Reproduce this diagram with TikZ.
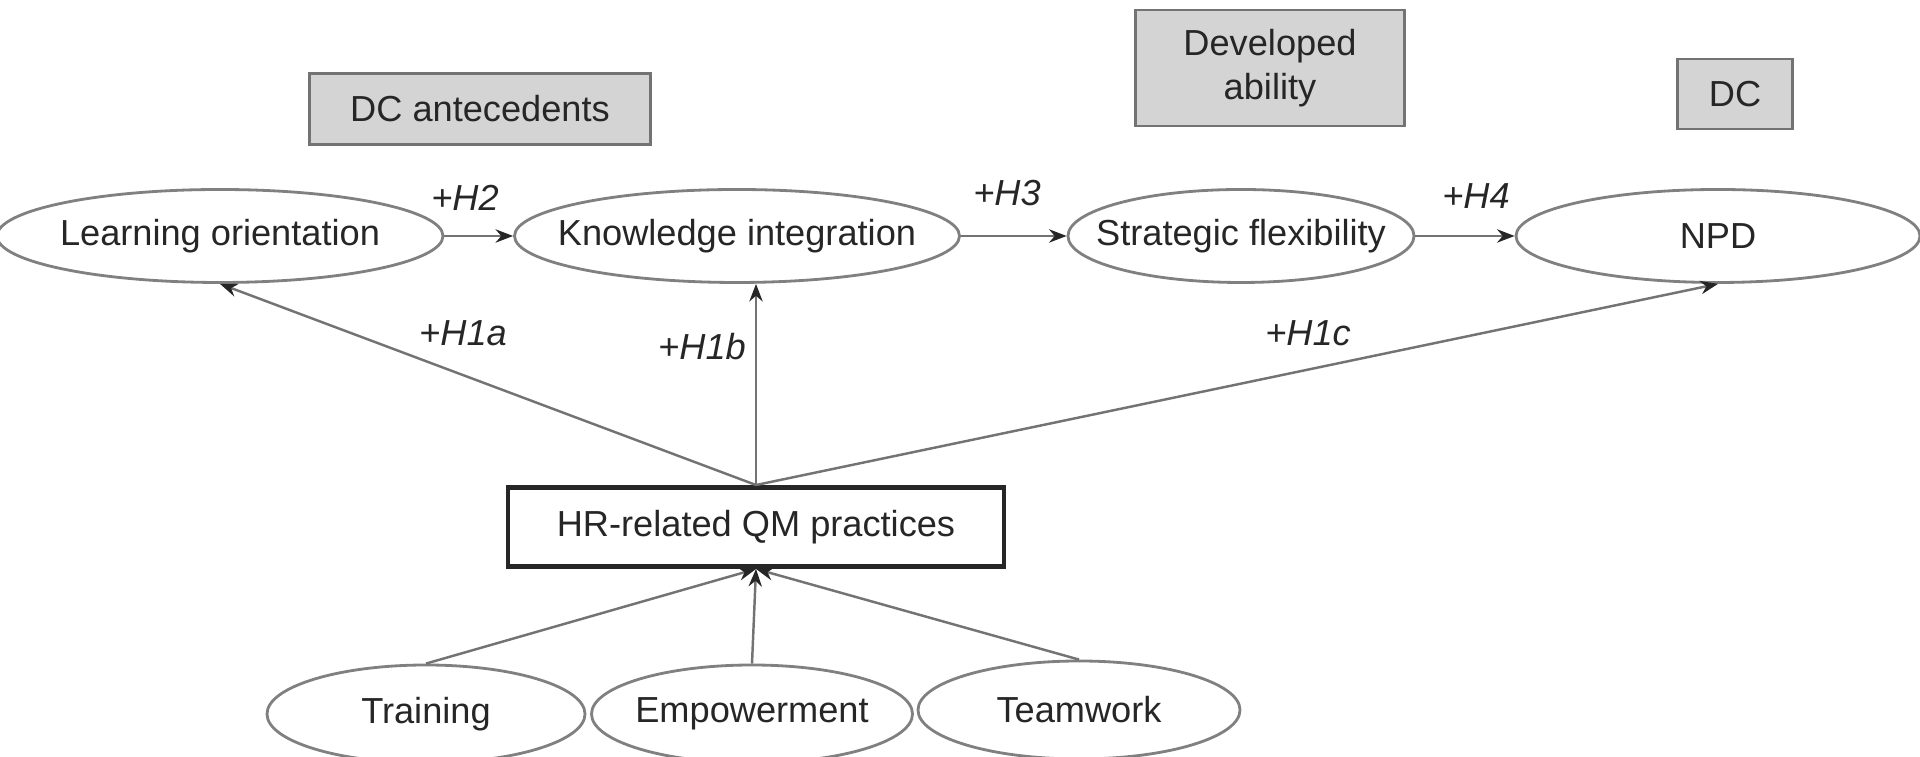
\documentclass[tikz,border=0pt]{standalone}
\usepackage{fontspec}
\setmainfont{Liberation Sans}
\usetikzlibrary{arrows.meta,positioning,shapes.geometric}

% text that does not widen the ellipse around it
\newcommand{\slim}[1]{\makebox[0pt]{#1}}

\begin{document}
\begin{tikzpicture}[>={Stealth[length=5pt,width=3.8pt,color=black!85]},
  font=\fontsize{10.3}{12.4}\selectfont, text=black!85,
  construct/.style={ellipse,draw=black!50,line width=0.8pt,inner sep=0pt,minimum height=0.93cm},
  levelbox/.style={rectangle,draw=black!55,fill=black!17,line width=0.8pt,align=center,inner sep=0pt},
  link/.style={->,draw=black!55,line width=0.7pt},
  hyp/.style={font=\fontsize{10.3}{12.4}\selectfont\itshape}]
  \useasboundingbox (0,0) rectangle (19.2,7.57);

  % level headings
  \node[levelbox,minimum width=3.41cm,minimum height=0.71cm] (ante) at (4.80,6.48) {DC antecedents};
  \node[levelbox,minimum width=2.69cm,minimum height=1.16cm] (devab) at (12.70,6.89) {Developed\\ability};
  \node[levelbox,minimum width=1.15cm,minimum height=0.70cm] (dc) at (17.35,6.63) {DC};

  % main chain
  \node[construct,minimum width=4.46cm] (lo) at (2.20,5.21) {\slim{Learning orientation}};
  \node[construct,minimum width=4.45cm] (ki) at (7.37,5.21) {\slim{Knowledge integration}};
  \node[construct,minimum width=3.46cm] (sf) at (12.41,5.21) {\slim{Strategic flexibility}};
  \node[construct,minimum width=4.04cm] (npd) at (17.18,5.21) {\slim{NPD}};

  \draw[link] (lo) -- (ki);
  \draw[link] (ki) -- (sf);
  \draw[link] (sf) -- (npd);
  \node[hyp] at (4.65,5.59) {+H2};
  \node[hyp] at (10.07,5.64) {+H3};
  \node[hyp] at (14.76,5.61) {+H4};

  % QM practices and their facets
  \node[rectangle,draw=black!85,line width=1.4pt,minimum width=4.96cm,minimum height=0.79cm] (hr) at (7.56,2.30) {HR-related QM practices};
  \node[construct,minimum width=3.18cm,minimum height=0.98cm] (train) at (4.26,0.43) {\slim{Training}};
  \node[construct,minimum width=3.21cm,minimum height=0.98cm] (emp) at (7.52,0.43) {\slim{Empowerment}};
  \node[construct,minimum width=3.22cm,minimum height=0.98cm] (team) at (10.79,0.47) {\slim{Teamwork}};

  \foreach \f in {train,emp,team} \draw[link] (\f.north) -- (hr.south);

  \draw[link] (hr.north) -- (lo.south);
  \draw[link] (hr.north) -- (ki.south -| hr.north);
  \draw[link] (hr.north) -- (npd.south);
  \node[hyp] at (4.63,4.24) {+H1a};
  \node[hyp] at (7.02,4.10) {+H1b};
  \node[hyp] at (13.08,4.24) {+H1c};
\end{tikzpicture}
\end{document}
